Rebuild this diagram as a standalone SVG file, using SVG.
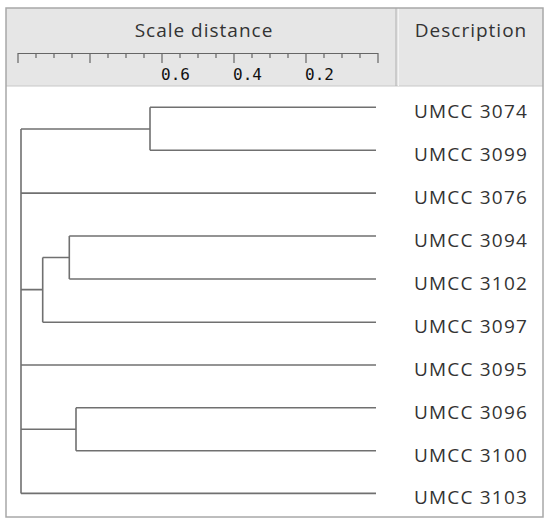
<svg xmlns="http://www.w3.org/2000/svg" width="550" height="526" viewBox="0 0 550 526">
<style>
.hdr{fill:#e6e6e6}
.frame{fill:none;stroke:#a8a8a8;stroke-width:1.5}
.title{font-family:"Open Sans","Noto Sans",sans-serif;font-size:19px;fill:#333;letter-spacing:1px}
.lbl{font-family:"Open Sans","Noto Sans",sans-serif;font-size:19px;fill:#333;letter-spacing:1.2px}
.num{font-family:"DejaVu Sans Mono","Liberation Mono",monospace;font-size:16px;fill:#111}
.tick{stroke:#666;stroke-width:1.2;fill:none}
.br{stroke:#707070;stroke-width:1.6;fill:none}
</style>
<rect x="0" y="0" width="550" height="526" fill="#ffffff"/>
<g id="header">
<rect class="hdr" x="6" y="8" width="537" height="78"/>
<line x1="6" y1="86" x2="543" y2="86" stroke="#c8c8c8" stroke-width="1"/>
<line x1="396" y1="8" x2="396" y2="86" stroke="#b0b0b0" stroke-width="1"/>
<line x1="398.5" y1="8" x2="398.5" y2="86" stroke="#f4f4f4" stroke-width="1"/>
<text class="title" x="204" y="37" text-anchor="middle">Scale distance</text>
<text class="title" x="471" y="37" text-anchor="middle">Description</text>
</g>
<g id="ruler">
<path class="tick" d="M18,53.5 H378 M18,53 V63 M36,53 V58 M54,53 V58 M72,53 V58 M90,53 V63 M108,53 V58 M126,53 V58 M144,53 V58 M162,53 V63 M180,53 V58 M198,53 V58 M216,53 V58 M234,53 V63 M252,53 V58 M270,53 V58 M288,53 V58 M306,53 V63 M324,53 V58 M342,53 V58 M360,53 V58 M378,53 V63"/>
<text class="num" x="161" y="80">0.6</text>
<text class="num" x="233" y="80">0.4</text>
<text class="num" x="305" y="80">0.2</text>
</g>
<rect class="frame" x="6" y="8" width="537" height="509"/>
<g id="connectors">
<path class="br" d="M21,129 V493.4"/>
<path class="br" d="M21,129 H150 M150,107.3 V150.2 M150,107.3 H376 M150,150.2 H376"/>
<path class="br" d="M21,193.1 H376"/>
<path class="br" d="M21,289.6 H42.7 M42.7,257.5 V322.3 M42.7,257.5 H69.3 M69.3,236 V279 M69.3,236 H376 M69.3,279 H376 M42.7,322.3 H376"/>
<path class="br" d="M21,365 H376"/>
<path class="br" d="M21,429.2 H76 M76,407.7 V450.7 M76,407.7 H376 M76,450.7 H376"/>
<path class="br" d="M21,493.4 H376"/>
</g>
<g id="n3074"><text class="lbl" x="414" y="118.3">UMCC 3074</text></g>
<g id="n3099"><text class="lbl" x="414" y="161.2">UMCC 3099</text></g>
<g id="n3076"><text class="lbl" x="414" y="204.1">UMCC 3076</text></g>
<g id="n3094"><text class="lbl" x="414" y="247">UMCC 3094</text></g>
<g id="n3102"><text class="lbl" x="414" y="290">UMCC 3102</text></g>
<g id="n3097"><text class="lbl" x="414" y="333.3">UMCC 3097</text></g>
<g id="n3095"><text class="lbl" x="414" y="376">UMCC 3095</text></g>
<g id="n3096"><text class="lbl" x="414" y="418.7">UMCC 3096</text></g>
<g id="n3100"><text class="lbl" x="414" y="461.7">UMCC 3100</text></g>
<g id="n3103"><text class="lbl" x="414" y="504.4">UMCC 3103</text></g>
</svg>
